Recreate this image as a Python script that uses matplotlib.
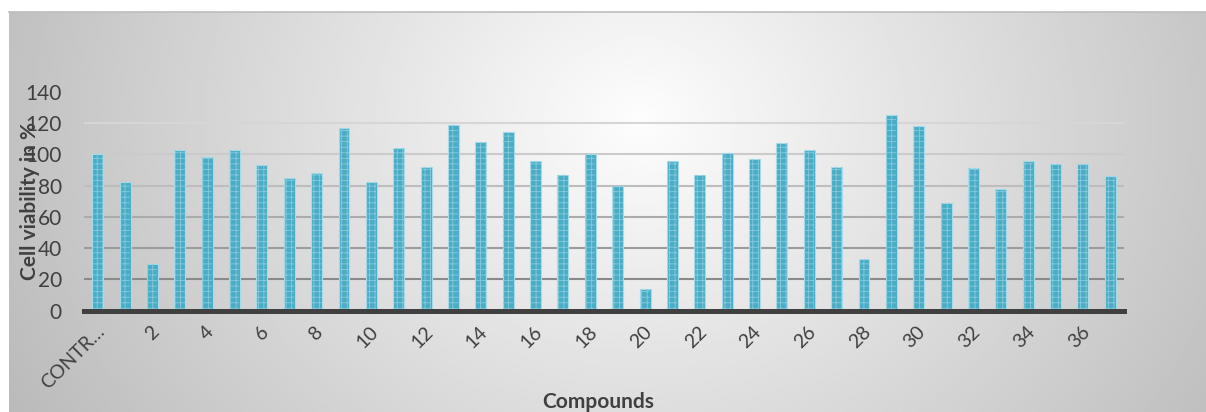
import numpy as np
import matplotlib
matplotlib.use("Agg")
import matplotlib.pyplot as plt
import matplotlib.transforms as mtransforms
from matplotlib.lines import Line2D

plt.rcParams['font.family'] = ['Lato', 'DejaVu Sans']
plt.rcParams['hatch.linewidth'] = 0.6

# cell viability per compound (CONTROL, then compounds 1..37)
compounds = ['CONTROL'] + [str(i) for i in range(1, 38)]
viability = [100, 82, 30, 103, 98, 103, 93, 85, 88, 117, 82, 104, 92, 119,
             108, 114, 96, 87, 100, 80, 14, 96, 87, 101, 97, 107, 103, 92,
             33, 125, 118, 69, 91, 78, 96, 94, 94, 86]
yticks = [0, 20, 40, 60, 80, 100, 120, 140]

W, H = 1206, 412
fig = plt.figure(figsize=(W / 100, H / 100), dpi=100)

# grey radial background behind the chart area
bg = fig.add_axes([9 / W, 0, 1 - 9 / W, 400 / H], zorder=-2)
gx, gy = np.meshgrid(np.linspace(9, W, 400), np.linspace(12, H, 140))
d = np.sqrt(((gx - 640) / 640) ** 2 + ((gy - 120) / 560) ** 2)
shade = np.clip(253 - 60 * d, 180, 253) / 255
bg.imshow(shade, cmap='gray', vmin=0, vmax=1, aspect='auto',
          extent=[0, 1, 0, 1], interpolation='bilinear')
bg.axis('off')
fig.add_artist(Line2D([9 / W, 1], [1 - 12 / H, 1 - 12 / H], color='#bdbdbd', lw=1.2))

left, right = 84, 1124
top, bottom = 91.7, 310.7
ax = fig.add_axes([left / W, 1 - bottom / H, (right - left) / W, (bottom - top) / H])
ax.set_facecolor('none')

x = np.arange(len(compounds))
ax.bar(x, viability, width=0.4, color='#4bacc6', edgecolor='#a6dbe8', linewidth=0.8, zorder=3)
ax.bar(x, viability, width=0.36, color='none', edgecolor='#86cbdc', hatch='+++', linewidth=0, zorder=4)

# gridlines fade from dark at the bottom to light at the top
grid_cols = ['#8a8a8a', '#9c9c9c', '#ababab', '#bdbdbd', '#cbcbcb', '#d6d6d6']
for v, c in zip(yticks[1:], grid_cols):
    ax.axhline(v, color=c, lw=1.5, zorder=1)

ax.set_xlim(-0.5, len(compounds) - 0.5)
ax.set_ylim(0, 140)
ax.set_yticks(yticks)
ax.tick_params(axis='y', length=0, pad=16, labelsize=15, labelcolor='#404040')

labels = [c if len(c) <= 5 else c[:5] + '…' for c in compounds[::2]]
ax.set_xticks(x[::2])
ax.set_xticklabels(labels, rotation=45, ha='right', va='center',
                   rotation_mode='anchor', fontsize=14, color='#404040')
ax.tick_params(axis='x', length=0, pad=13)
shift = mtransforms.ScaledTranslation(4 / 100, 0, fig.dpi_scale_trans)
for lab in ax.get_xticklabels():
    lab.set_transform(lab.get_transform() + shift)

for s in ['top', 'right', 'left']:
    ax.spines[s].set_visible(False)
ax.spines['bottom'].set_color('#404040')
ax.spines['bottom'].set_linewidth(3.6)
ax.spines['bottom'].set_zorder(5)

fig.text(30 / W, 1 - 201 / H, 'Cell viability in %', rotation=90, ha='center', va='center',
         fontsize=15, fontweight='bold', color='#404040')
fig.text(598 / W, 1 - 402 / H, 'Compounds', ha='center', va='center',
         fontsize=15, fontweight='bold', color='#404040')

fig.savefig('out.png', dpi=100)
